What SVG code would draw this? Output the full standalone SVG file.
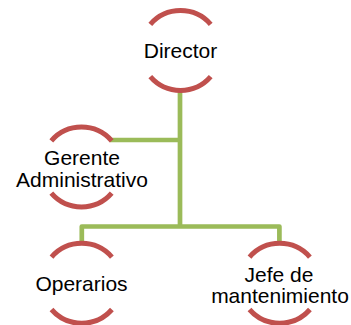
<svg xmlns="http://www.w3.org/2000/svg" width="351" height="325" viewBox="0 0 351 325">
<style>
.arc{fill:none;stroke:#C0504D;stroke-width:5}
.conn{fill:none;stroke:#9BBB59;stroke-width:4.7;stroke-linejoin:round}
.bg{fill:#FFFFFF;stroke:none}
text{font-family:"Liberation Sans",Arial,sans-serif;font-size:21px;fill:#000000;text-anchor:middle}
</style>
<rect width="351" height="325" fill="#FFFFFF"/>
<g id="connectors">
<path class="conn" d="M180,90 V226.5"/>
<path class="conn" d="M110,140 H180"/>
<path class="conn" d="M81.8,243 V226.5 H279.4 V243"/>
</g>
<g id="node-director">
<path class="arc" d="M150.3,24.3 A40,40 0 0 1 210.7,24.3"/>
<path class="arc" d="M150.3,76.7 A40,40 0 0 0 210.7,76.7"/>
<text x="180.5" y="58.3">Director</text>
</g>
<g id="node-gerente">
<path class="arc" d="M51.3,140.8 A40,40 0 0 1 111.7,140.8"/>
<path class="arc" d="M51.3,193.2 A40,40 0 0 0 111.7,193.2"/>
<text x="82" y="164.5">Gerente</text>
<text x="82" y="187">Administrativo</text>
</g>
<g id="node-operarios">
<path class="arc" d="M51.5,257.1 A40,40 0 0 1 111.9,257.1"/>
<path class="arc" d="M51.5,309.5 A40,40 0 0 0 111.9,309.5"/>
<text x="81.5" y="290.5">Operarios</text>
</g>
<g id="node-jefe">
<path class="arc" d="M249.5,257.1 A40,40 0 0 1 309.9,257.1"/>
<path class="arc" d="M249.5,309.5 A40,40 0 0 0 309.9,309.5"/>
<text x="279" y="281.5">Jefe de</text>
<text x="280" y="302.5">mantenimiento</text>
</g>
</svg>
